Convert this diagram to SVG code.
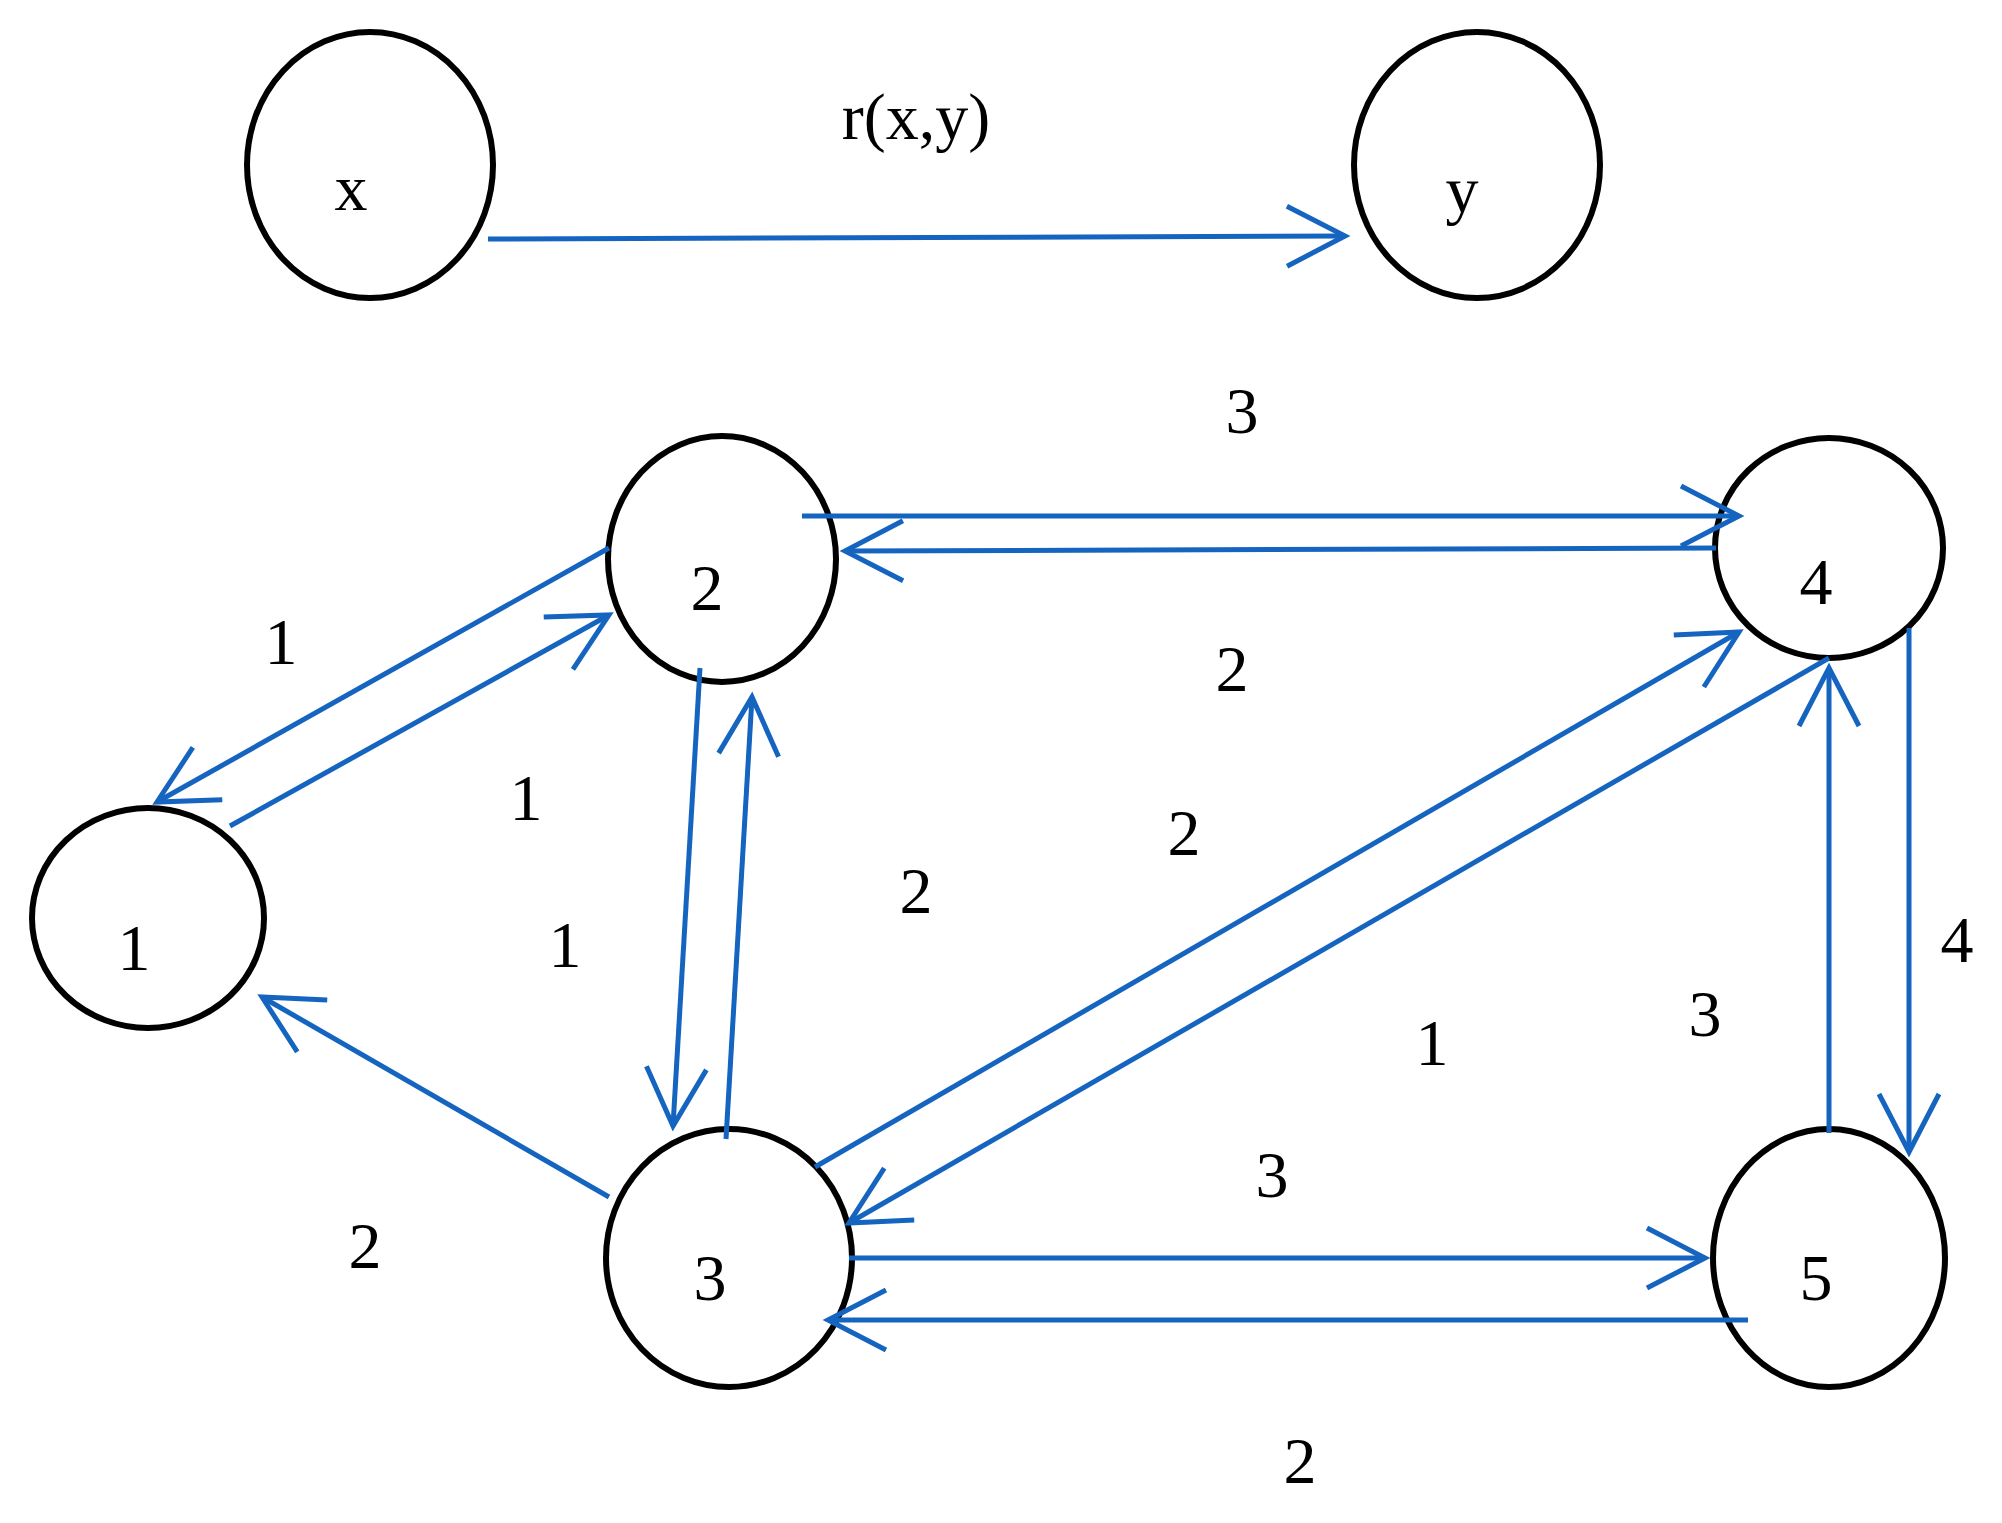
<svg xmlns="http://www.w3.org/2000/svg" width="2002" height="1523" viewBox="0 0 2002 1523">
<style>
.n{fill:none;stroke:#000;stroke-width:6}
.t{font-family:"Liberation Serif",serif;font-size:66px;fill:#000;text-anchor:middle}
.e{stroke:#1565c0;stroke-width:5;fill:none;marker-end:url(#a)}
</style>
<defs><marker id="a" markerUnits="userSpaceOnUse" orient="auto" markerWidth="80" markerHeight="80" refX="0" refY="0" viewBox="-70 -40 80 80" overflow="visible"><path d="M-58,-30 L0,0 L-58,30" fill="none" stroke="#1565c0" stroke-width="5"/></marker></defs>
<rect width="2002" height="1523" fill="#fff"/>
<g id="nx"><ellipse class="n" cx="370" cy="165" rx="123" ry="133"/><text class="t" x="351" y="210">x</text></g>
<g id="ny"><ellipse class="n" cx="1477" cy="165" rx="123" ry="133"/><text class="t" x="1462" y="212">y</text></g>
<g id="n2"><ellipse class="n" cx="722" cy="559" rx="114" ry="123"/><text class="t" x="707" y="610">2</text></g>
<g id="n4"><ellipse class="n" cx="1829" cy="548" rx="114" ry="110"/><text class="t" x="1816" y="604">4</text></g>
<g id="n1"><ellipse class="n" cx="148" cy="918" rx="116" ry="110"/><text class="t" x="134" y="970">1</text></g>
<g id="n3"><ellipse class="n" cx="729" cy="1258" rx="123" ry="129"/><text class="t" x="710" y="1300">3</text></g>
<g id="n5"><ellipse class="n" cx="1829" cy="1258" rx="116" ry="129"/><text class="t" x="1816" y="1300">5</text></g>
<g id="edges">
<line class="e" x1="488" y1="239" x2="1345" y2="236"/>
<line class="e" x1="802" y1="516" x2="1739" y2="516"/>
<line class="e" x1="1716" y1="548" x2="845" y2="551"/>
<line class="e" x1="609" y1="548" x2="157" y2="802"/>
<line class="e" x1="230" y1="826" x2="609" y2="615"/>
<line class="e" x1="700" y1="668" x2="673" y2="1126"/>
<line class="e" x1="726" y1="1139" x2="752" y2="697"/>
<line class="e" x1="609" y1="1197" x2="262" y2="997"/>
<line class="e" x1="815" y1="1167" x2="1739" y2="632"/>
<line class="e" x1="1829" y1="658" x2="849" y2="1223"/>
<line class="e" x1="1829" y1="1133" x2="1829" y2="668"/>
<line class="e" x1="1909" y1="628" x2="1909" y2="1152"/>
<line class="e" x1="849" y1="1258" x2="1705" y2="1258"/>
<line class="e" x1="1748" y1="1320" x2="828" y2="1320"/>
</g>
<g id="labels">
<text class="t" x="916" y="139">r(x,y)</text>
<text class="t" x="1242" y="433">3</text>
<text class="t" x="281" y="664">1</text>
<text class="t" x="1232" y="691">2</text>
<text class="t" x="526" y="820">1</text>
<text class="t" x="1184" y="855">2</text>
<text class="t" x="916" y="913">2</text>
<text class="t" x="565" y="967">1</text>
<text class="t" x="1957" y="962">4</text>
<text class="t" x="1705" y="1036">3</text>
<text class="t" x="1432" y="1065">1</text>
<text class="t" x="1272" y="1197">3</text>
<text class="t" x="365" y="1268">2</text>
<text class="t" x="1300" y="1483">2</text>
</g>
</svg>
